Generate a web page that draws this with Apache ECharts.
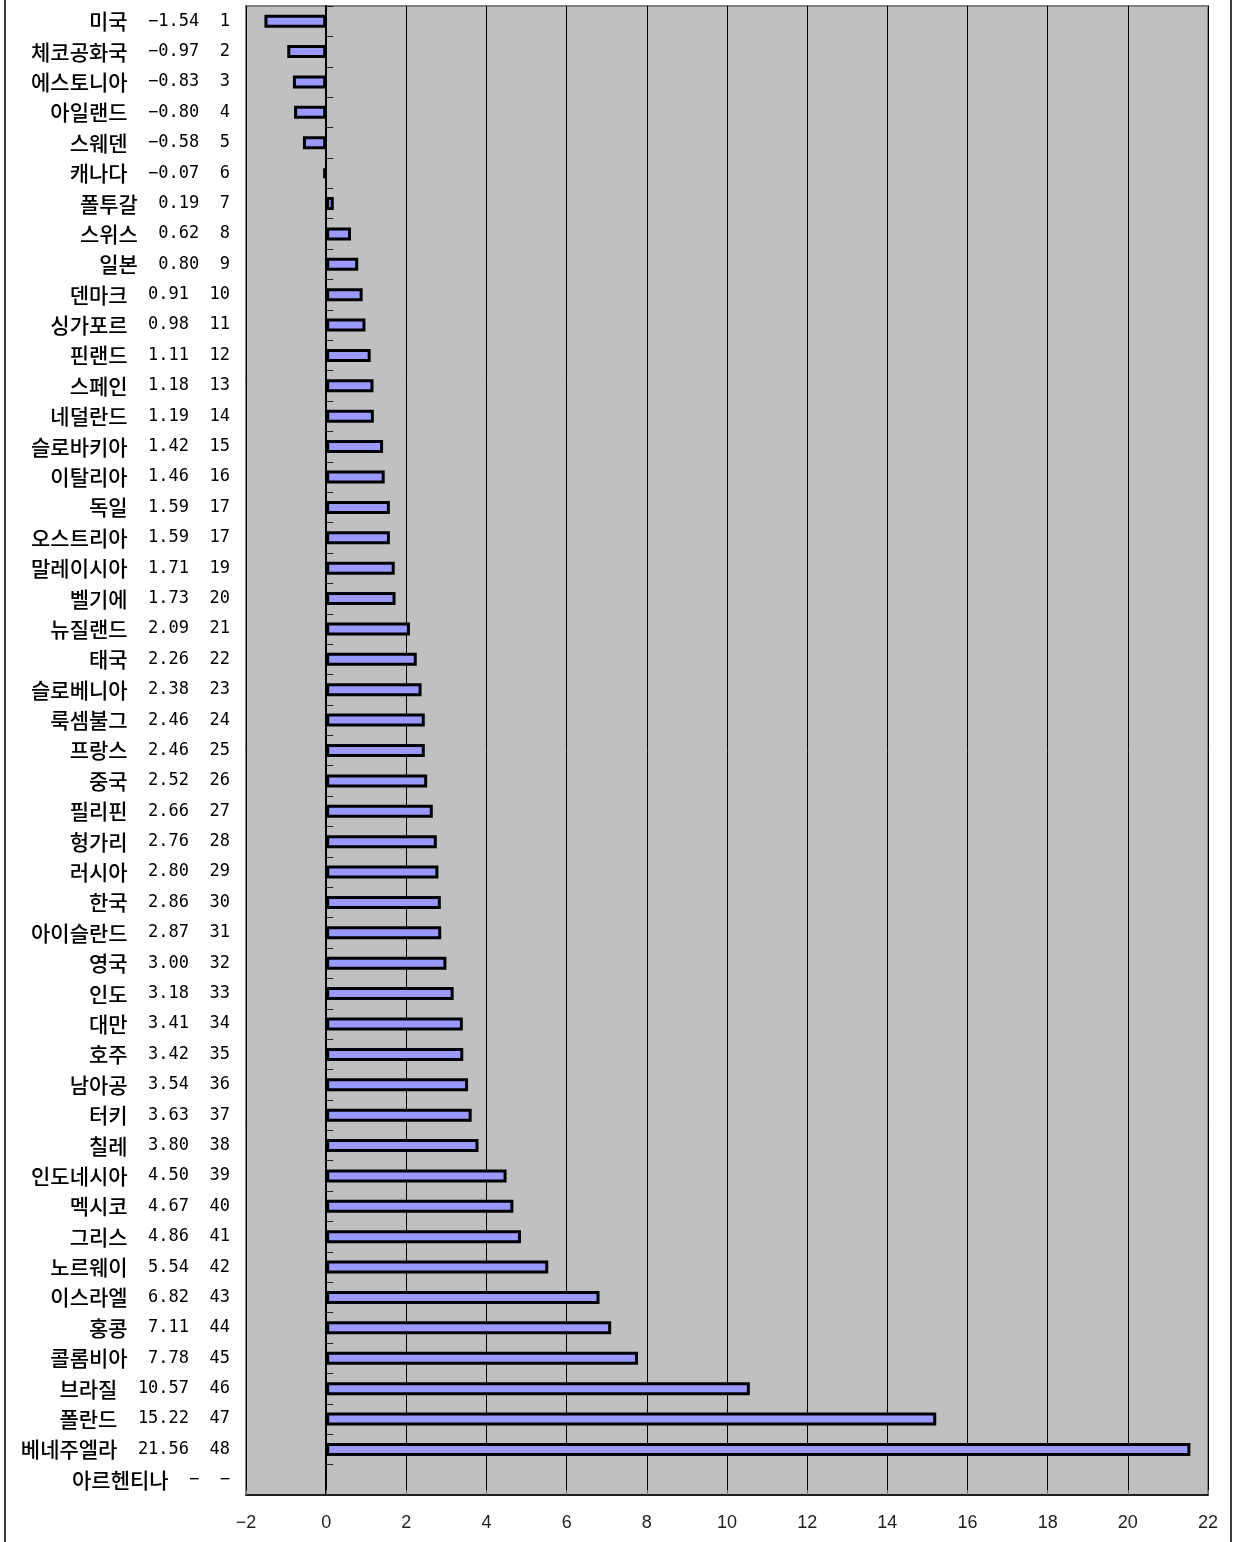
<!DOCTYPE html>
<html>
<head>
<meta charset="utf-8">
<script src="https://cdn.jsdelivr.net/npm/echarts@6/dist/echarts.min.js"></script>
<style>
html,body{margin:0;padding:0;background:#fff;}
#mychart{width:1235px;height:1542px;}
</style>
</head>
<body>
<div id="mychart"></div>
<script>
var countries = ['미국','체코공화국','에스토니아','아일랜드','스웨덴','캐나다','폴투갈','스위스','일본','덴마크',
	'싱가포르','핀랜드','스페인','네덜란드','슬로바키아','이탈리아','독일','오스트리아','말레이시아','벨기에',
	'뉴질랜드','태국','슬로베니아','룩셈불그','프랑스','중국','필리핀','헝가리','러시아','한국',
	'아이슬란드','영국','인도','대만','호주','남아공','터키','칠레','인도네시아','멕시코',
	'그리스','노르웨이','이스라엘','홍콩','콜롬비아','브라질','폴란드','베네주엘라','아르헨티나'];
var values = [-1.54,-0.97,-0.83,-0.80,-0.58,-0.07,0.19,0.62,0.80,0.91,
	0.98,1.11,1.18,1.19,1.42,1.46,1.59,1.59,1.71,1.73,
	2.09,2.26,2.38,2.46,2.46,2.52,2.66,2.76,2.80,2.86,
	2.87,3.00,3.18,3.41,3.42,3.54,3.63,3.80,4.50,4.67,
	4.86,5.54,6.82,7.11,7.78,10.57,15.22,21.56,null];
var ranks = ['1','2','3','4','5','6','7','8','9','10',
	'11','12','13','14','15','16','17','17','19','20',
	'21','22','23','24','25','26','27','28','29','30',
	'31','32','33','34','35','36','37','38','39','40',
	'41','42','43','44','45','46','47','48','-'];
var xTicks = {min:-2, max:22, interval:2};

var myChart = echarts.init(document.getElementById('mychart'));

function rowLabel(name, idx){
	var v = values[idx];
	var vs = (v === null) ? '-' : v.toFixed(2);
	var txt = '  ' + vs + '  ' + ranks[idx];
	return '{n|' + name + '}{v|' + txt.replace(/-/g, '\u2212') + '}';
}

var option = {
	animation:false,
	backgroundColor:'#fff',
	graphic:[{
		type:'rect',
		shape:{x:5, y:-10, width:1226, height:1570},
		style:{fill:'none', stroke:'#000', lineWidth:1.5},
		silent:true
	}],
	grid:{
		left:246,
		right:27,
		top:6,
		bottom:47,
		show:true,
		backgroundColor:'#c0c0c0',
		borderColor:'#808080',
		borderWidth:2
	},
	xAxis:{
		type:'value',
		min:xTicks.min,
		max:xTicks.max,
		interval:xTicks.interval,
		axisLine:{show:true, onZero:false, lineStyle:{color:'#000', width:1.5}},
		axisTick:{show:true, inside:true, length:5, lineStyle:{color:'#666'}},
		splitLine:{show:true, lineStyle:{color:'#000', width:1}},
		axisLabel:{
			margin:19,
			fontSize:18,
			fontFamily:'Liberation Sans',
			color:'#222',
			formatter:function(v){ return v < 0 ? '\u2212' + Math.abs(v) : String(v); }
		}
	},
	yAxis:[{
		type:'category',
		inverse:true,
		data:countries,
		axisLine:{show:false, onZero:false},
		axisTick:{show:false},
		axisLabel:{
			margin:16,
			formatter:function(val, idx){ return rowLabel(val, idx); },
			rich:{
				n:{fontSize:21, fontFamily:'Noto Sans CJK KR', fontWeight:500, color:'#000'},
				v:{fontSize:17, fontFamily:'DejaVu Sans Mono', color:'#000'}
			}
		}
	},{
		type:'category',
		inverse:true,
		position:'left',
		data:countries,
		axisLine:{show:true, onZero:true, lineStyle:{color:'#000', width:2}},
		axisTick:{show:true, inside:true, length:7, lineStyle:{color:'#222', width:1}},
		axisLabel:{show:false},
		splitLine:{show:false}
	}],
	series:[{
		type:'bar',
		yAxisIndex:0,
		data:values,
		barWidth:13,
		barMinHeight:3,
		itemStyle:{color:'#9999ff', borderColor:'#000', borderWidth:3},
		z:5
	}]
};
myChart.setOption(option, true);
</script>
</body>
</html>
